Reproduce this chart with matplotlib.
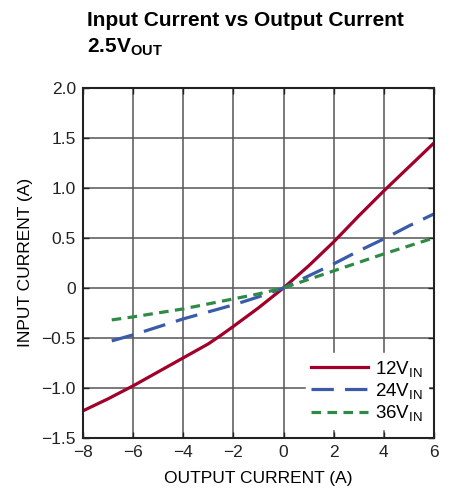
import matplotlib
matplotlib.use("Agg")
import matplotlib.pyplot as plt

# --- Data ---
x_12v = [-8, -7, -6, -5, -4, -3, -2.5, -2, -1, 0, 1, 2, 3, 4, 5, 6]
i_12v = [-1.23, -1.11, -0.98, -0.84, -0.70, -0.56, -0.475, -0.385, -0.2, 0, 0.22, 0.46, 0.72, 0.97, 1.21, 1.45]

x_24v = [-6.85, -6, -5, -4, -3, -2, -1, 0, 1, 2, 3, 4, 5, 6]
i_24v = [-0.53, -0.47, -0.39, -0.31, -0.24, -0.17, -0.09, 0, 0.12, 0.24, 0.37, 0.49, 0.62, 0.74]

x_36v = [-6.85, -6, -5, -4, -3, -2, -1, 0, 1, 2, 3, 4, 5, 6]
i_36v = [-0.32, -0.29, -0.25, -0.21, -0.16, -0.11, -0.06, 0, 0.085, 0.17, 0.255, 0.34, 0.42, 0.5]

series_labels = [r"$\mathregular{12V_{IN}}$", r"$\mathregular{24V_{IN}}$", r"$\mathregular{36V_{IN}}$"]
x_ticks = [-8, -6, -4, -2, 0, 2, 4, 6]
y_ticks = [-1.5, -1.0, -0.5, 0, 0.5, 1.0, 1.5, 2.0]

plt.rcParams["font.family"] = ["Liberation Sans", "DejaVu Sans"]
plt.rcParams["mathtext.default"] = "regular"

fig = plt.figure(figsize=(4.53, 4.97), dpi=100)
ax = fig.add_axes([0.183, 0.119, 0.775, 0.704])

ax.plot(x_12v, i_12v, color="#A0002A", lw=2.3, label=series_labels[0])
ax.plot(x_24v, i_24v, color="#3A5BA8", lw=2.3, dashes=(7, 3.5), label=series_labels[1])
ax.plot(x_36v, i_36v, color="#2E8B45", lw=2.3, dashes=(3, 2), label=series_labels[2])

ax.set_xlim(-8, 6)
ax.set_ylim(-1.5, 2.0)
ax.set_xticks(x_ticks)
ax.set_yticks(y_ticks)
ax.set_xticklabels([f"{v}".replace("-", "\u2212") for v in x_ticks])
ax.set_yticklabels([("0" if v == 0 else f"{v:.1f}").replace("-", "\u2212") for v in y_ticks])
ax.tick_params(direction="in", length=4, width=1, top=True, right=True,
               labelsize=12.5, colors="#222222", pad=5)
ax.grid(True, color="#555555", lw=1.1)
for s in ax.spines.values():
    s.set_linewidth(1.5)
    s.set_color("#222222")

ax.set_xlabel("OUTPUT CURRENT (A)", fontsize=12.5, labelpad=8)
ax.set_ylabel("INPUT CURRENT (A)", fontsize=12.5, labelpad=6)

leg = ax.legend(loc="lower right", bbox_to_anchor=(1.0, 0.01), frameon=True,
                fontsize=13.5, handlelength=3.0, handletextpad=0.4,
                labelspacing=0.12, borderaxespad=0.3, borderpad=0.3,
                fancybox=False)
leg.get_frame().set_edgecolor("white")
leg.get_frame().set_facecolor("white")
leg.get_frame().set_alpha(1)

fig.text(0.192, 0.958, "Input Current vs Output Current", fontsize=15,
         fontweight="bold", ha="left", va="center")
fig.text(0.192, 0.905, r"$\mathregular{2.5V_{OUT}}$", fontsize=15,
         fontweight="bold", ha="left", va="center")

fig.savefig("out.png", dpi=100)
